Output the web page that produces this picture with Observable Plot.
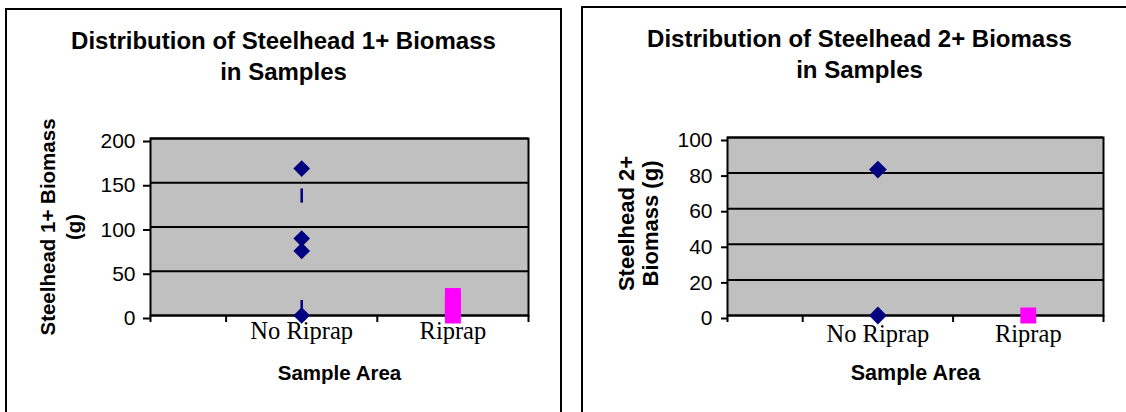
<!DOCTYPE html>
<html>
<head>
<meta charset="utf-8">
<script src="https://cdn.jsdelivr.net/npm/d3@7"></script>
<script src="https://cdn.jsdelivr.net/npm/@observablehq/plot@0.6"></script>
<style>
  html, body { margin: 0; padding: 0; background: white; overflow: hidden; width: 1126px; height: 412px; }
  .panel { position: absolute; box-sizing: border-box; border: 2px solid black; width: 557px; height: 430px; background: white; }
  .panel svg { position: absolute; left: 0; top: 0; }
  .title { position: absolute; left: 0; width: 100%; text-align: center; font: bold 24px "Liberation Sans", Arial, sans-serif; line-height: 31px; color: black; z-index: 2; }
</style>
</head>
<body>
<div class="panel" id="p1" style="left:5px; top:8px;"><div class="title" style="top:15px">Distribution of Steelhead 1+ Biomass<br>in Samples</div></div>
<div class="panel" id="p2" style="left:581px; top:6px;"><div class="title" style="top:15px">Distribution of Steelhead 2+ Biomass<br>in Samples</div></div>
<script>
// ---- data ----
const categories = ["No Riprap", "Riprap"];

// Chart 1: Steelhead 1+ biomass (g)
const noRiprap1 = [166, 87, 73, 0];
const riprap1 = [0, 7, 14, 22];
const noRiprap1Dashes = [[127, 143], [3, 17]];
const yTicks1 = [0, 50, 100, 150, 200];

// Chart 2: Steelhead 2+ biomass (g)
const noRiprap2 = [82, 0];
const riprap2 = [0];
const yTicks2 = [0, 20, 40, 60, 80, 100];

const navy = "#000080";
const magenta = "#ff00ff";
const catPos = c => categories.indexOf(c) + 1;
const boundaries = [0, 0.5, ...categories.map((_, i) => i + 1.5)];

function makeChart(o) {
  const rowsA = o.noRiprap.map(v => ({cat: "No Riprap", value: v}));
  const rowsB = o.riprap.map(v => ({cat: "Riprap", value: v}));
  const dashes = (o.dashes || []).map(d => ({cat: "No Riprap", lo: d[0], hi: d[1]}));
  return Plot.plot({
    width: o.width, height: o.height,
    marginLeft: o.ml, marginRight: o.mr, marginTop: o.mt, marginBottom: o.mb,
    style: {background: "white", color: "black", fontFamily: "'Liberation Sans', Arial, sans-serif"},
    x: {domain: [0, categories.length + 0.5]},
    y: {domain: [0, o.yTicks[o.yTicks.length - 1]]},
    marks: [
      Plot.frame({fill: "#c0c0c0", stroke: null}),
      Plot.ruleY(o.yTicks, {stroke: "black", strokeWidth: 2}),
      Plot.frame({stroke: "black", strokeWidth: 2}),
      Plot.axisY({ticks: o.yTicks, tickSize: o.tickSizeY, tickPadding: o.tickPadY, fontSize: 21, strokeWidth: 2, label: null, dy: 3, fill: "black"}),
      Plot.axisX({ticks: boundaries, tickFormat: () => "", tickSize: 7, strokeWidth: 2, label: null}),
      Plot.text(categories, {x: d => catPos(d), text: d => d, frameAnchor: "bottom", lineAnchor: "top", dy: o.catDy, fontSize: 24.5, fontFamily: "'Liberation Serif', 'Times New Roman', serif", fill: "black"}),
      Plot.text([o.yTitle], {frameAnchor: "left", textAnchor: "middle", lineAnchor: "middle", rotate: -90, dx: o.yTitleDx, dy: o.yTitleDy, fontSize: o.yTitleSize, fontWeight: "bold", lineHeight: o.yTitleLH, fill: "black"}),
      Plot.text(["Sample Area"], {frameAnchor: "bottom", dy: 64, fontSize: o.xTitleSize, fontWeight: "bold", fill: "black"}),
      Plot.ruleX(dashes, {x: d => catPos(d.cat), y1: "lo", y2: "hi", stroke: navy, strokeWidth: 2.5}),
      Plot.dot(rowsA, {x: d => catPos(d.cat), y: "value", symbol: "diamond2", r: o.dr, fill: navy, stroke: null}),
      Plot.dot(rowsB, {x: d => catPos(d.cat), y: "value", symbol: "square", r: 9, fill: magenta, stroke: null})
    ]
  });
}

document.getElementById("p1").appendChild(makeChart({
  width: 553, height: 410, ml: 143, mr: 32, mt: 128, mb: 105,
  noRiprap: noRiprap1, riprap: riprap1, dashes: noRiprap1Dashes, yTicks: yTicks1,
  tickSizeY: 7, tickPadY: 8, catDy: 6,
  yTitle: "Steelhead 1+ Biomass\n(g)", yTitleDx: -91, yTitleDy: 0, yTitleSize: 20.5, yTitleLH: 1.3,
  xTitleSize: 20.5, dr: 7.5
}));
document.getElementById("p2").appendChild(makeChart({
  width: 553, height: 412, ml: 144, mr: 33, mt: 129, mb: 105,
  noRiprap: noRiprap2, riprap: riprap2, yTicks: yTicks2,
  tickSizeY: 6, tickPadY: 9, catDy: 9,
  yTitle: "Steelhead 2+\nBiomass (g)", yTitleDx: -89, yTitleDy: -3, yTitleSize: 22, yTitleLH: 1.1,
  xTitleSize: 21.5, dr: 8
}));
</script>
</body>
</html>
